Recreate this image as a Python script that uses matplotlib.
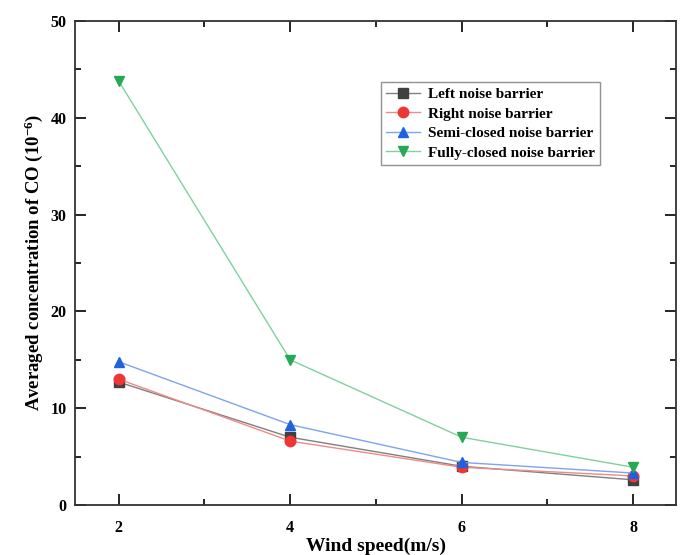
import matplotlib
matplotlib.use("Agg")
import matplotlib.pyplot as plt
from matplotlib.ticker import MultipleLocator

plt.rcParams['font.family'] = ['Liberation Serif', 'DejaVu Serif']
plt.rcParams['font.weight'] = 'bold'
plt.rcParams['mathtext.fontset'] = 'custom'
plt.rcParams['mathtext.rm'] = 'Liberation Serif:bold'
plt.rcParams['mathtext.bf'] = 'Liberation Serif:bold'
plt.rcParams['mathtext.default'] = 'bf'

wind_speed = [2, 4, 6, 8]
left_barrier = [12.7, 7.0, 4.0, 2.6]
right_barrier = [13.0, 6.6, 3.9, 3.0]
semi_closed = [14.8, 8.3, 4.4, 3.3]
fully_closed = [43.8, 15.0, 7.0, 3.9]

series = [
    ("Left noise barrier", left_barrier, 's', '#404040', '#808080'),
    ("Right noise barrier", right_barrier, 'o', '#f03535', '#f08a8a'),
    ("Semi-closed noise barrier", semi_closed, '^', '#1f62e0', '#7fa3f0'),
    ("Fully-closed noise barrier", fully_closed, 'v', '#27a854', '#80d0a0'),
]

fig = plt.figure(figsize=(6.83, 5.55), dpi=100)
ax = fig.add_axes([0.1098, 0.0901, 0.88, 0.872])

for label, vals, mk, mc, lc in series:
    ax.plot(wind_speed, vals, color=lc, lw=1.0, marker=mk, markersize=7.5,
            markerfacecolor=mc, markeredgecolor=mc, label=label)

ax.set_xlim(1.49, 8.5)
ax.set_ylim(0, 50)
ax.xaxis.set_major_locator(MultipleLocator(2))
ax.xaxis.set_minor_locator(MultipleLocator(1))
ax.yaxis.set_major_locator(MultipleLocator(10))
ax.yaxis.set_minor_locator(MultipleLocator(5))
ax.tick_params(which='both', direction='in', top=True, right=True, width=1.2, labelsize=11.5)
ax.tick_params(which='major', length=8)
ax.tick_params(which='minor', length=4)
for lab in ax.get_xticklabels() + ax.get_yticklabels():
    lab.set_fontweight('bold')
ax.tick_params(axis='x', pad=11)
ax.tick_params(axis='y', pad=6)
for s in ax.spines.values():
    s.set_linewidth(1.3)
    s.set_color('#333333')

ax.set_xlabel("Wind speed(m/s)", fontsize=14, fontweight='bold', labelpad=1)
ax.set_ylabel("Averaged concentration of CO (10$^{-6}$)", fontsize=13.5, fontweight='bold', labelpad=4)

leg = ax.legend(loc='upper left', bbox_to_anchor=(0.509, 0.874),
                frameon=True, fancybox=False, edgecolor='#777777', borderpad=0.35,
                labelspacing=0.38, handlelength=2.2, handletextpad=0.5, borderaxespad=0,
                prop={'family': 'Liberation Serif', 'weight': 'bold', 'size': 11})
leg.get_frame().set_linewidth(1.0)

fig.savefig("out.png", dpi=100)
